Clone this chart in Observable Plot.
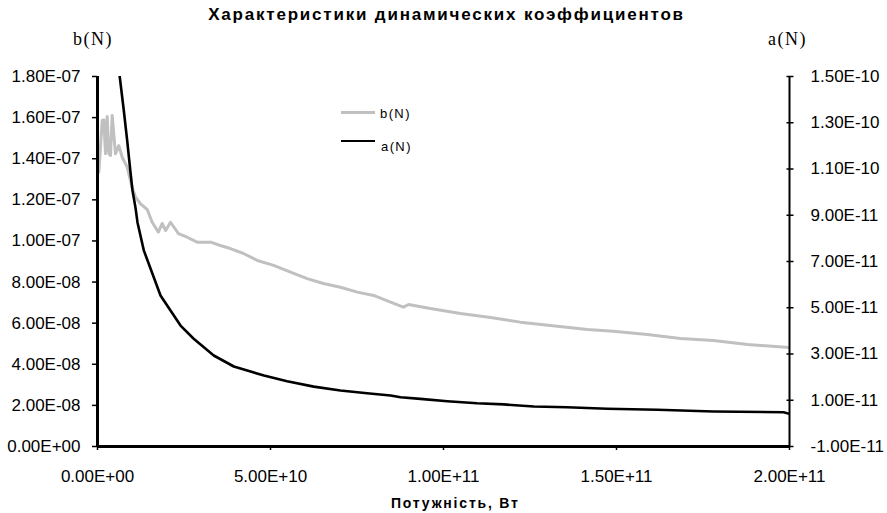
<!DOCTYPE html>
<html>
<head>
<meta charset="utf-8">
<script src="https://cdn.jsdelivr.net/npm/d3@7"></script>
<script src="https://cdn.jsdelivr.net/npm/@observablehq/plot@0.6"></script>
<style>
  body { margin: 0; background: #fff; }
  #wrap { position: relative; width: 887px; height: 513px; font-family: "Liberation Sans", Arial, sans-serif; }
  .abs { position: absolute; white-space: nowrap; line-height: 1; color: #000; }
  #title { top: 6px; left: 3px; width: 887px; text-align: center; font-weight: bold; font-size: 17px; letter-spacing: 1.8px; }
  .serif { font-family: "Liberation Serif", "Times New Roman", serif; font-size: 18px; letter-spacing: 1.5px; }
  #xlab { top: 496px; left: 391px; font-weight: bold; font-size: 14px; letter-spacing: 1.8px; }
  .leg { font-size: 13px; letter-spacing: 1.4px; }
  .legline { position: absolute; width: 34px; }
</style>
</head>
<body>
<div id="wrap">
  <div id="chart"></div>
  <div class="abs" id="title">Характеристики динамических коэффициентов</div>
  <div class="abs serif" style="top:30px;left:73px;">b(N)</div>
  <div class="abs serif" style="top:30px;left:768px;">a(N)</div>
  <div class="abs" id="xlab">Потужність, Вт</div>
  <div class="legline" style="left:341px;top:111px;height:2.5px;background:#c0c0c0;"></div>
  <div class="abs leg" style="top:107px;left:380px;">b(N)</div>
  <div class="legline" style="left:341px;top:139.5px;height:2.8px;background:#000;"></div>
  <div class="abs leg" style="top:140px;left:381px;">a(N)</div>
</div>
<script>
// x: power, W
const bX = [0.38e9, 1.36e9, 1.82e9, 2.31e9, 2.80e9, 3.27e9, 3.76e9, 4.25e9, 5.20e9, 6.16e9,
  7.14e9, 8.58e9, 10.0e9, 11.0e9, 12.4e9, 14.4e9, 15.8e9, 17.6e9, 18.7e9, 19.7e9,
  21.1e9, 23.4e9, 25.9e9, 28.8e9, 32.7e9, 35.5e9, 38.4e9, 42.2e9, 46.2e9, 50.9e9,
  55.8e9, 60.6e9, 65.3e9, 70.2e9, 75.1e9, 79.8e9, 84.7e9, 88.4e9, 89.9e9, 96.2e9,
  104.9e9, 113.6e9, 122.2e9, 130.9e9, 141.6e9, 149.1e9, 158.9e9, 168.5e9, 178.0e9, 187.9e9,
  200e9];
const bY = [1.334e-7, 1.586e-7, 1.589e-7, 1.424e-7, 1.605e-7, 1.424e-7, 1.416e-7, 1.610e-7, 1.424e-7, 1.464e-7,
  1.407e-7, 1.359e-7, 1.261e-7, 1.213e-7, 1.181e-7, 1.152e-7, 1.091e-7, 1.043e-7, 1.085e-7, 1.051e-7,
  1.091e-7, 1.036e-7, 1.018e-7, 0.994e-7, 0.994e-7, 0.978e-7, 0.963e-7, 0.939e-7, 0.905e-7, 0.881e-7,
  0.848e-7, 0.817e-7, 0.793e-7, 0.775e-7, 0.751e-7, 0.735e-7, 0.702e-7, 0.678e-7, 0.691e-7, 0.671e-7,
  0.647e-7, 0.628e-7, 0.605e-7, 0.589e-7, 0.569e-7, 0.561e-7, 0.545e-7, 0.525e-7, 0.516e-7, 0.496e-7,
  0.482e-7];
const aX = [4.9e9, 6.44e9, 7.60e9, 8.58e9, 9.54e9, 10.11e9, 10.98e9, 11.56e9, 13.38e9, 15.32e9,
  18.21e9, 21.10e9, 24.0e9, 27.8e9, 33.6e9, 39.4e9, 48.1e9, 54.8e9, 62.5e9, 70.2e9,
  77.9e9, 84.7e9, 87.6e9, 93.3e9, 101.1e9, 109.7e9, 117.4e9, 126.1e9, 135.7e9, 147.3e9,
  161.8e9, 178.1e9, 198.3e9, 200e9];
const aY = [1.656e-10, 1.497e-10, 1.353e-10, 1.223e-10, 1.085e-10, 1.007e-10, 0.933e-10, 0.869e-10, 0.748e-10, 0.670e-10,
  0.553e-10, 0.488e-10, 0.423e-10, 0.366e-10, 0.2935e-10, 0.246e-10, 0.207e-10, 0.182e-10, 0.159e-10, 0.142e-10,
  0.130e-10, 0.1205e-10, 0.113e-10, 0.106e-10, 0.096e-10, 0.087e-10, 0.082e-10, 0.073e-10, 0.070e-10, 0.063e-10,
  0.0587e-10, 0.0513e-10, 0.048e-10, 0.041e-10];

const xTicks = [0, 5e10, 1e11, 1.5e11, 2e11];
const leftTicks = [0, 2e-8, 4e-8, 6e-8, 8e-8, 1e-7, 1.2e-7, 1.4e-7, 1.6e-7, 1.8e-7];
const rightTicks = [-1e-11, 1e-11, 3e-11, 5e-11, 7e-11, 9e-11, 1.1e-10, 1.3e-10, 1.5e-10];
const leftDomain = [0, 1.8e-7];
const rightDomain = [-1e-11, 1.5e-10];
const xDomain = [0, 2e11];

const toLeft = (a) => (a - rightDomain[0]) / (rightDomain[1] - rightDomain[0]) * (leftDomain[1] - leftDomain[0]) + leftDomain[0];
const fromLeft = (b) => (b - leftDomain[0]) / (leftDomain[1] - leftDomain[0]) * (rightDomain[1] - rightDomain[0]) + rightDomain[0];

function fmt(v) {
  if (Math.abs(v) < 1e-30) return "0.00E+00";
  const [m, e] = v.toExponential(2).split("e");
  const sign = e[0] === "-" ? "-" : "+";
  return m + "E" + sign + String(Math.abs(+e)).padStart(2, "0");
}

const bData = bX.map((x, i) => ({x, y: bY[i]}));
const aData = aX.map((x, i) => ({x, y: toLeft(aY[i])}));
const FS = 17;

const chart = Plot.plot({
  width: 887,
  height: 513,
  marginLeft: 97,
  marginRight: 98,
  marginTop: 76,
  marginBottom: 67,
  style: {fontFamily: "'Liberation Sans', Arial, sans-serif", fontSize: "17px", color: "#000", background: "#fff"},
  x: {domain: xDomain},
  y: {domain: leftDomain},
  marks: [
    Plot.line(bData, {x: "x", y: "y", stroke: "#c0c0c0", strokeWidth: 3, clip: true}),
    Plot.line(aData, {x: "x", y: "y", stroke: "#000", strokeWidth: 2.6, clip: true}),
    Plot.axisY(leftTicks, {anchor: "left", tickSize: 5, tickPadding: 12, tickFormat: fmt, label: null, strokeWidth: 1.5, fontSize: FS}),
    Plot.axisY(rightTicks.map(toLeft), {anchor: "right", tickSize: 0, tickPadding: 21, tickFormat: (d) => fmt(fromLeft(d)), label: null, fontSize: FS}),
    Plot.axisY(rightTicks.map(toLeft), {anchor: "right", tickSize: 7, dx: -3.5, tickFormat: () => "", label: null, strokeWidth: 1.5}),
    Plot.axisX(xTicks, {tickSize: 4, tickPadding: 19, tickFormat: fmt, label: null, strokeWidth: 1.5, fontSize: FS}),
    Plot.ruleX([xDomain[0]], {strokeWidth: 3}),
    Plot.ruleX([xDomain[1]], {strokeWidth: 2}),
    Plot.ruleY([leftDomain[0]], {strokeWidth: 3})
  ]
});
document.getElementById("chart").appendChild(chart);
</script>
</body>
</html>
